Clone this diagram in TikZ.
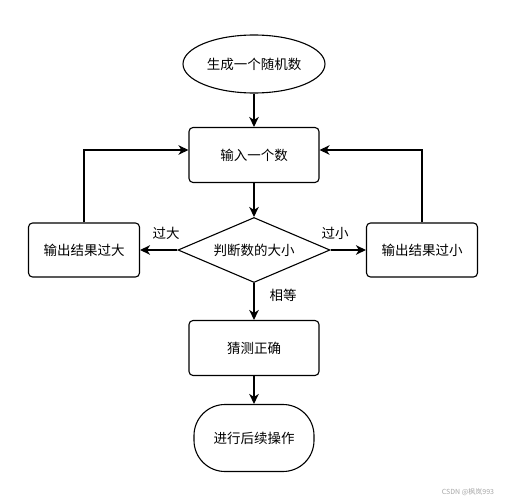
\documentclass[tikz,border=0pt]{standalone}
\usepackage{fontspec}
\setmainfont{Noto Sans CJK SC}
\usetikzlibrary{shapes.geometric,arrows.meta}
\begin{document}
\begin{tikzpicture}[x=1pt,y=-1pt,
  every node/.style={font=\fontsize{13.5}{16}\selectfont, inner sep=0pt},
  shp/.style={draw, line width=1.1pt},
  box/.style={shp, rounded corners=4pt, minimum width=130pt, minimum height=55pt},
  sbox/.style={shp, rounded corners=4pt, minimum width=111pt, minimum height=54pt},
  oval/.style={shp, ellipse, minimum width=142pt, minimum height=58pt},
  term/.style={shp, rounded corners=31pt, minimum width=120pt, minimum height=67pt},
  dia/.style={shp, diamond, aspect=2.34, minimum width=152pt, minimum height=65pt},
  conn/.style={line width=1.1pt, -{Stealth[length=10pt,width=9.5pt,inset=3pt]}},
  lbl/.style={font=\fontsize{13.5}{16}\selectfont}
]
\useasboundingbox (0,0) rectangle (506,500);
\node[oval] (start) at (254,64) {生成一个随机数};
\node[box] (input) at (254,155) {输入一个数};
\node[dia] (judge) at (254,250) {判断数的大小};
\node[sbox] (big) at (84,250) {输出结果过大};
\node[sbox] (small) at (422,250) {输出结果过小};
\node[box] (ok) at (254,348) {猜测正确};
\node[term] (next) at (254,438) {进行后续操作};
\coordinate (bl) at (84,150);
\coordinate (br) at (422,150);
\draw[conn] (start) -- (input);
\draw[conn] (input) -- (judge);
\draw[conn] (judge) -- (big);
\draw[conn] (judge) -- (small);
\draw[conn] (judge) -- (ok);
\draw[conn] (ok) -- (next);
\draw[conn] (big.north) -- (bl) -- (input.west|-bl);
\draw[conn] (small.north) -- (br) -- (input.east|-br);
\node[lbl] (lbig) at (166,233) {过大};
\node[lbl] (lsmall) at (335,233) {过小};
\node[lbl] (leq) at (283,295) {相等};
\node[text=gray!70, font=\fontsize{7}{8}\selectfont] (wm) at (468,492) {CSDN @枫岚993};
\end{tikzpicture}
\end{document}
